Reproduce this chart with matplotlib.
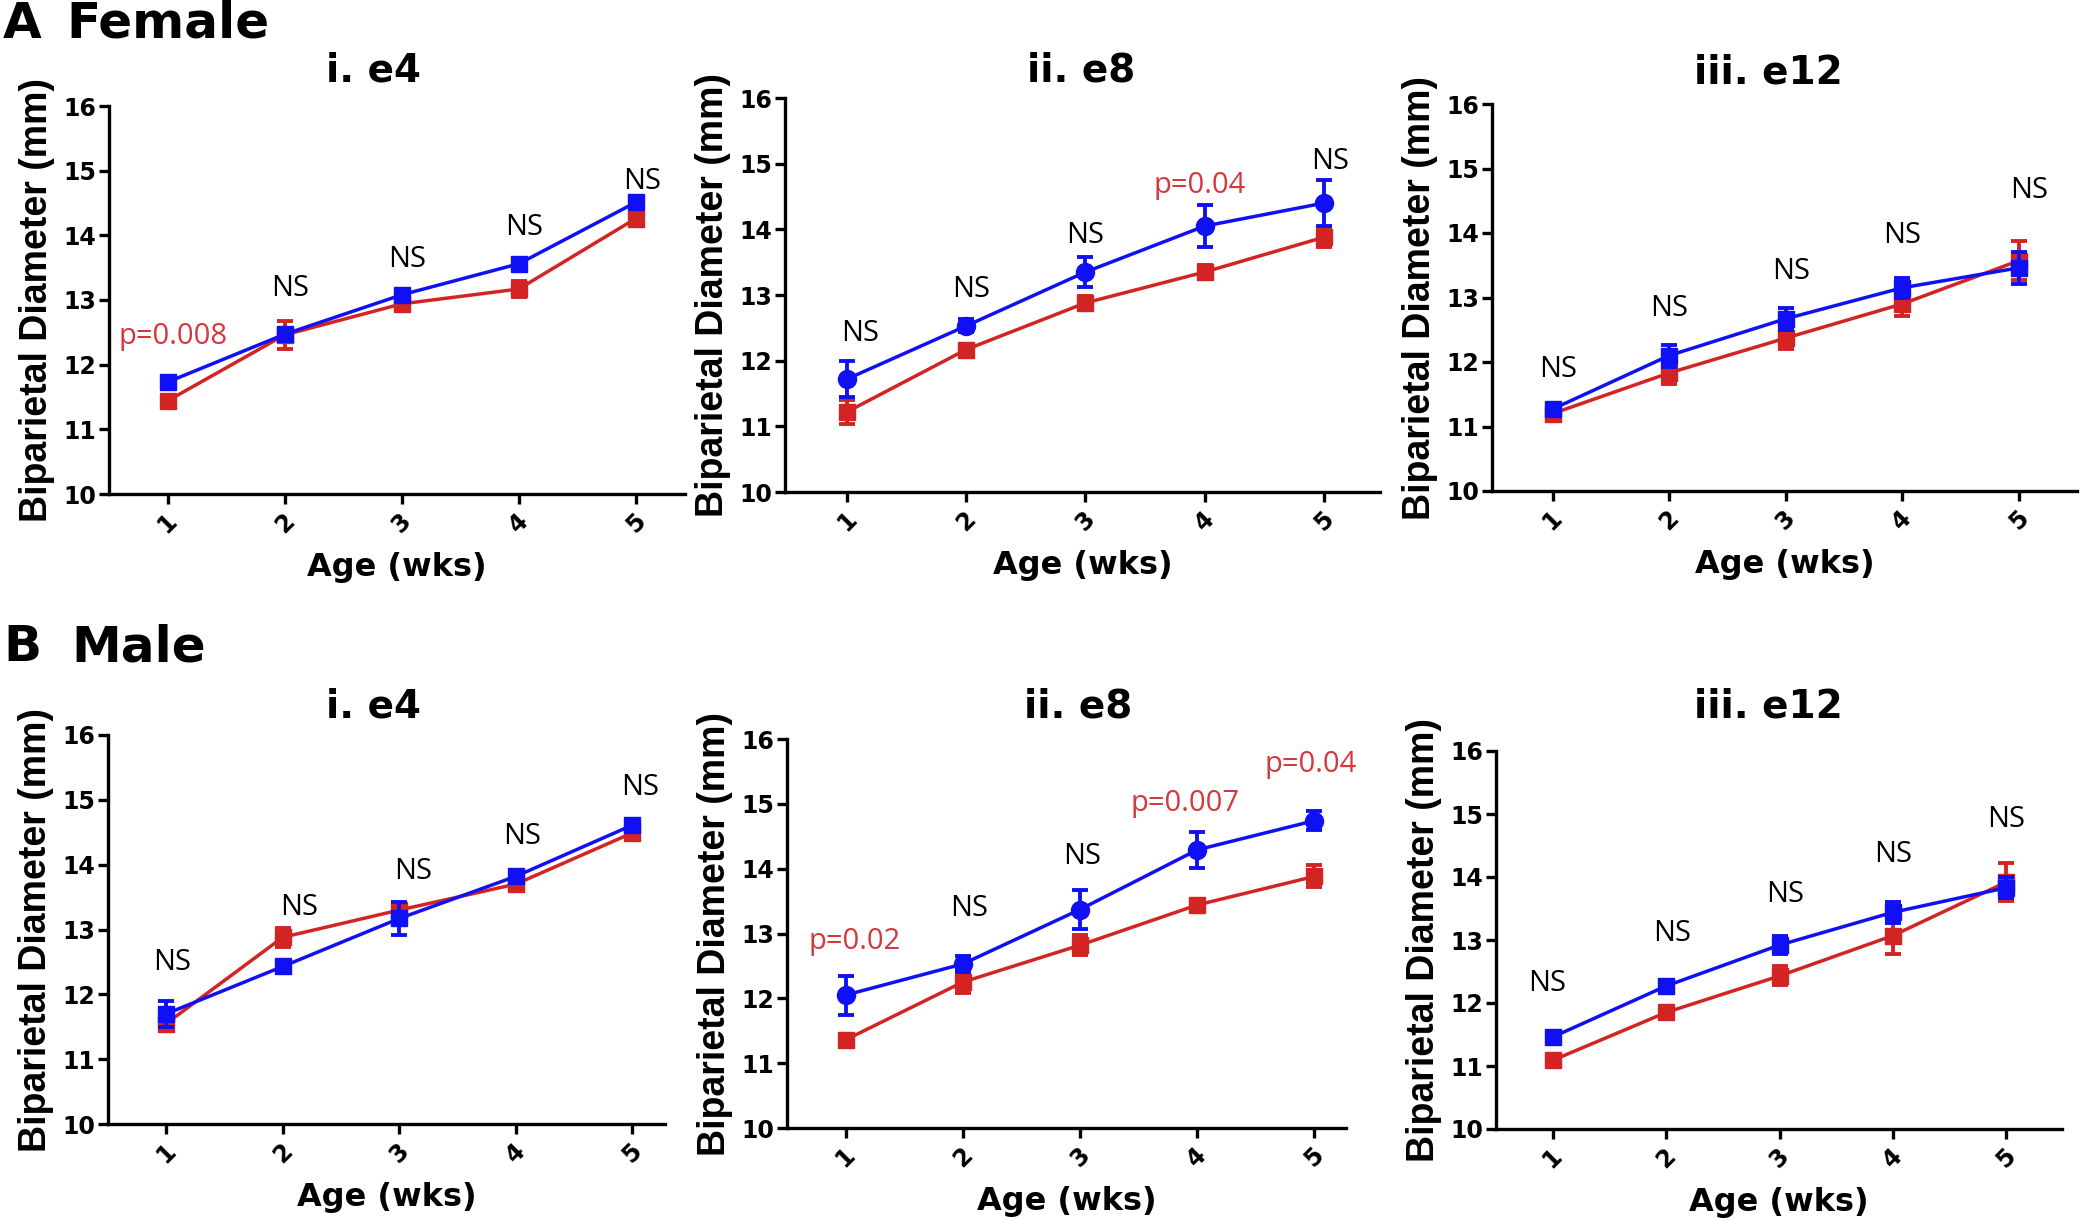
import matplotlib
matplotlib.use('Agg')
import matplotlib.pyplot as plt

# ---- data (mm) ----
weeks = [1, 2, 3, 4, 5]
week_labels = ['1', '2', '3', '4', '5']
panel_titles = ['i. e4', 'ii. e8', 'iii. e12']

# Female
fem_e4_blue = [11.73, 12.47, 13.08, 13.56, 14.51]
fem_e4_blue_err = [0.06, 0.06, 0.07, 0.07, 0.07]
fem_e4_red = [11.44, 12.46, 12.94, 13.17, 14.26]
fem_e4_red_err = [0.05, 0.22, 0.08, 0.12, 0.06]

fem_e8_blue = [11.72, 12.53, 13.35, 14.05, 14.40]
fem_e8_blue_err = [0.27, 0.10, 0.23, 0.32, 0.35]
fem_e8_red = [11.22, 12.17, 12.88, 13.35, 13.88]
fem_e8_red_err = [0.18, 0.08, 0.10, 0.10, 0.15]

fem_e12_blue = [11.27, 12.10, 12.67, 13.15, 13.46]
fem_e12_blue_err = [0.07, 0.17, 0.17, 0.15, 0.25]
fem_e12_red = [11.20, 11.83, 12.37, 12.90, 13.57]
fem_e12_red_err = [0.08, 0.17, 0.17, 0.18, 0.30]

# Male
male_e4_blue = [11.70, 12.43, 13.17, 13.82, 14.61]
male_e4_blue_err = [0.20, 0.10, 0.25, 0.10, 0.10]
male_e4_red = [11.55, 12.88, 13.30, 13.70, 14.49]
male_e4_red_err = [0.10, 0.15, 0.10, 0.08, 0.05]

male_e8_blue = [12.05, 12.53, 13.37, 14.29, 14.74]
male_e8_blue_err = [0.30, 0.13, 0.30, 0.28, 0.15]
male_e8_red = [11.36, 12.25, 12.82, 13.44, 13.88]
male_e8_red_err = [0.05, 0.17, 0.15, 0.08, 0.17]

male_e12_blue = [11.46, 12.27, 12.92, 13.44, 13.83]
male_e12_blue_err = [0.08, 0.10, 0.15, 0.17, 0.17]
male_e12_red = [11.09, 11.85, 12.43, 13.07, 13.92]
male_e12_red_err = [0.10, 0.07, 0.15, 0.30, 0.30]

# significance labels per week
fem_e4_sig = ['p=0.008', 'NS', 'NS', 'NS', 'NS']
fem_e8_sig = ['NS', 'NS', 'NS', 'p=0.04', 'NS']
fem_e12_sig = ['NS', 'NS', 'NS', 'NS', 'NS']
male_e4_sig = ['NS', 'NS', 'NS', 'NS', 'NS']
male_e8_sig = ['p=0.02', 'NS', 'NS', 'p=0.007', 'p=0.04']
male_e12_sig = ['NS', 'NS', 'NS', 'NS', 'NS']

# ---- layout (pixels in a 2083x1220 canvas) ----
W, H = 2083, 1220
BLUE = '#1010f5'
RED = '#d32424'
RED_TXT = '#d5383c'
BOLD = ['DejaVu Sans']
YLAB = ['Liberation Sans', 'DejaVu Sans']

panels = [
    dict(blue=fem_e4_blue, be=fem_e4_blue_err, red=fem_e4_red, re=fem_e4_red_err,
         sig=fem_e4_sig, box=(109, 685, 106, 494), xlim=(0.5, 5.42), title=panel_titles[0],
         tpos=(373, 71), bmark='s',
         spos=[(1.05, 12.44), (2.05, 13.18), (3.05, 13.63), (4.05, 14.12), (5.05, 14.83)]),
    dict(blue=fem_e8_blue, be=fem_e8_blue_err, red=fem_e8_red, re=fem_e8_red_err,
         sig=fem_e8_sig, box=(785, 1380, 98, 492), xlim=(0.48, 5.47), title=panel_titles[1],
         tpos=(1081, 71), bmark='o',
         spos=[(1.11, 12.42), (2.04, 13.09), (3.0, 13.90), (3.96, 14.66), (5.05, 15.04)]),
    dict(blue=fem_e12_blue, be=fem_e12_blue_err, red=fem_e12_red, re=fem_e12_red_err,
         sig=fem_e12_sig, box=(1492, 2077, 104, 491), xlim=(0.48, 5.5), title=panel_titles[2],
         tpos=(1768, 73), bmark='s',
         spos=[(1.05, 11.88), (2.0, 12.83), (3.05, 13.40), (4.0, 13.96), (5.09, 14.66)]),
    dict(blue=male_e4_blue, be=male_e4_blue_err, red=male_e4_red, re=male_e4_red_err,
         sig=male_e4_sig, box=(108, 665, 735, 1124), xlim=(0.5, 5.28), title=panel_titles[0],
         tpos=(373, 706), bmark='s',
         spos=[(1.05, 12.49), (2.14, 13.34), (3.12, 13.90), (4.05, 14.44), (5.07, 15.19)]),
    dict(blue=male_e8_blue, be=male_e8_blue_err, red=male_e8_red, re=male_e8_red_err,
         sig=male_e8_sig, box=(787, 1346, 739, 1128), xlim=(0.5, 5.27), title=panel_titles[1],
         tpos=(1078, 706), bmark='o',
         spos=[(1.08, 12.88), (2.05, 13.38), (3.02, 14.18), (3.9, 15.0), (4.97, 15.6)]),
    dict(blue=male_e12_blue, be=male_e12_blue_err, red=male_e12_red, re=male_e12_red_err,
         sig=male_e12_sig, box=(1496, 2062, 751, 1129), xlim=(0.5, 5.49), title=panel_titles[2],
         tpos=(1768, 706), bmark='s',
         spos=[(0.95, 12.31), (2.05, 13.10), (3.05, 13.73), (4.0, 14.36), (5.0, 14.92)]),
]

plt.rcParams['font.family'] = BOLD

fig = plt.figure(figsize=(W / 100, H / 100), dpi=100)

for p in panels:
    l, r, t, b = p['box']
    ax = fig.add_axes([l / W, 1 - b / H, (r - l) / W, (b - t) / H])
    ax.patch.set_alpha(0)

    ax.errorbar(weeks, p['red'], yerr=p['re'], color=RED, marker='s', markersize=12,
                linewidth=2.5, elinewidth=2.8, capsize=6, capthick=2.8, zorder=3)
    ax.errorbar(weeks, p['blue'], yerr=p['be'], color=BLUE, marker=p['bmark'],
                markersize=13 if p['bmark'] == 'o' else 12,
                linewidth=2.5, elinewidth=2.8, capsize=6, capthick=2.8, zorder=4)

    for lab, (sx, sy) in zip(p['sig'], p['spos']):
        ax.text(sx, sy, lab, ha='center', va='center', fontsize=21,
                family=['Open Sans', 'DejaVu Sans'],
                color='black' if lab == 'NS' else RED_TXT, clip_on=False, zorder=5)

    ax.set_xlim(*p['xlim'])
    ax.set_ylim(10, 16)
    ax.set_yticks(range(10, 17))
    ax.set_xticks(weeks)
    ax.set_xticklabels(week_labels, rotation=45, ha='center')
    for s in ['top', 'right']:
        ax.spines[s].set_visible(False)
    for s in ['left', 'bottom']:
        ax.spines[s].set_linewidth(2.4)
    ax.tick_params(width=2.4, length=7, labelsize=17)
    ax.tick_params(axis='y', pad=2)
    ax.tick_params(axis='x', pad=4)
    for lbl in ax.get_xticklabels() + ax.get_yticklabels():
        lbl.set_fontweight('bold')

    ax.set_ylabel('Biparietal Diameter (mm)', fontsize=27, fontweight='bold',
                  family=YLAB, labelpad=6)
    ax.set_xlabel('Age (wks)', fontsize=23, fontweight='bold', labelpad=10)

    tx, ty = p['tpos']
    fig.text(tx / W, 1 - ty / H, p['title'], ha='center', va='center',
             fontsize=28, fontweight='bold')

# section headers
fig.text(3 / W, 1 - 24 / H, 'A', ha='left', va='center', fontsize=36, fontweight='bold')
fig.text(66 / W, 1 - 24 / H, 'Female', ha='left', va='center', fontsize=36, fontweight='bold')
fig.text(3 / W, 1 - 647 / H, 'B', ha='left', va='center', fontsize=36, fontweight='bold')
fig.text(71 / W, 1 - 647 / H, 'Male', ha='left', va='center', fontsize=36, fontweight='bold')

plt.savefig('out.png', dpi=100, facecolor='white')
plt.close('all')
